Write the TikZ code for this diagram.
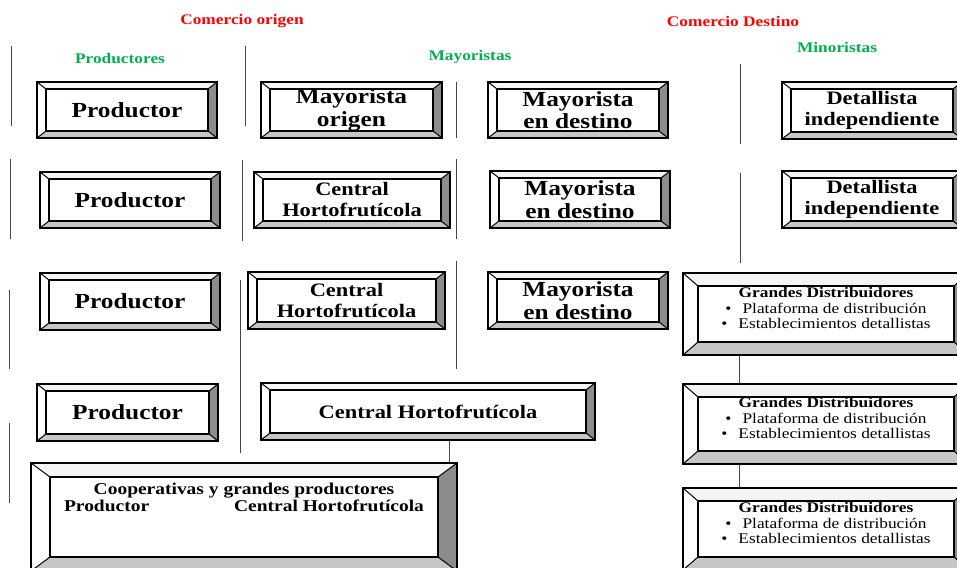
\documentclass[tikz,border=0pt]{standalone}
\usepackage{fontspec}
\setmainfont[FakeStretch=1.18]{Liberation Serif}
\definecolor{headred}{RGB}{255,0,0}
\definecolor{headgreen}{RGB}{0,176,80}
\definecolor{bevtop}{RGB}{244,244,244}
\definecolor{bevright}{RGB}{140,140,140}
\definecolor{bevbottom}{RGB}{198,198,198}
\definecolor{sepline}{RGB}{70,70,70}
\begin{document}
\begin{tikzpicture}[
		x=1pt, y=-1pt,
		bevel x/.store in=\bevx, bevel y/.store in=\bevy,
		bevel x=9, bevel y=7,
		bevelbox/.style={rectangle, draw, line width=2.4pt, inner sep=0pt, align=center,
			minimum width=180pt, minimum height=56pt,
			font=\bfseries\fontsize{21.5}{22.5}\selectfont,
			path picture={
				\coordinate (bA) at (path picture bounding box.north west);
				\coordinate (bB) at (path picture bounding box.north east);
				\coordinate (bC) at (path picture bounding box.south east);
				\coordinate (bD) at (path picture bounding box.south west);
				\coordinate (ba) at ([shift={(\bevx pt,-\bevy pt)}]bA);
				\coordinate (bb) at ([shift={(-\bevx pt,-\bevy pt)}]bB);
				\coordinate (bc) at ([shift={(-\bevx pt,\bevy pt)}]bC);
				\coordinate (bd) at ([shift={(\bevx pt,\bevy pt)}]bD);
				\fill[bevtop] (bA) -- (bB) -- (bb) -- (ba) -- cycle;
				\fill[bevright] (bB) -- (bC) -- (bc) -- (bb) -- cycle;
				\fill[bevbottom] (bC) -- (bD) -- (bd) -- (bc) -- cycle;
				\draw[line width=1pt] (bA) -- (ba) (bB) -- (bb) (bC) -- (bc) (bD) -- (bd);
				\draw[line width=1.8pt] (ba) rectangle (bc);
			}},
		midtext/.style={font=\bfseries\fontsize{19}{21}\selectfont},
		gdbox/.style={bevelbox, bevel x=15, bevel y=13, minimum width=286pt,
			font=\fontsize{14.7}{15.5}\selectfont},
		head/.style={font=\bfseries\fontsize{14.7}{16}\selectfont},
		sep/.style={draw=sepline, line width=0.9pt},
		link/.style={draw=sepline, line width=0.9pt}
	]
	\useasboundingbox (0,0) rectangle (957,567);
	\clip (0,0) rectangle (957,567);

	\node[head, text=headred] (orig) at (242,21) {Comercio origen};
	\node[head, text=headred] (dest) at (733,21) {Comercio Destino};
	\node[head, text=headgreen] (prod) at (120,58) {Productores};
	\node[head, text=headgreen] (may) at (470,57) {Mayoristas};
	\node[head, text=headgreen] (min) at (837,47) {Minoristas};

	\node[bevelbox] (p1) at (127,110) {Productor};
	\node[bevelbox, minimum width=181pt] (mo) at (351.5,110) {Mayorista\\origen};
	\node[bevelbox] (md1) at (578,110) {Mayorista\\en destino};
	\node[bevelbox, midtext, minimum height=57pt] (dt1) at (872,110.5) {Detallista\\independiente};

	\node[bevelbox] (p2) at (130,200) {Productor};
	\node[bevelbox, midtext, minimum width=196pt] (ch1) at (352,200) {Central\\Hortofrutícola};
	\node[bevelbox, minimum height=57pt] (md2) at (580,199.5) {Mayorista\\en destino};
	\node[bevelbox, midtext, minimum height=57pt] (dt2) at (872,199.5) {Detallista\\independiente};

	\node[bevelbox, minimum height=57pt] (p3) at (130,301.5) {Productor};
	\node[bevelbox, midtext, minimum width=197pt, minimum height=57pt] (ch2) at (346.5,300.5) {Central\\Hortofrutícola};
	\node[bevelbox, minimum height=57pt] (md3) at (578,300.5) {Mayorista\\en destino};
	\node[gdbox, minimum height=82pt] (gd1) at (826,314) {\textbf{Grandes Distribuidores}\\\textbullet\hspace{11pt}Plataforma de distribución\\\textbullet\hspace{11pt}Establecimientos detallistas\rule[-12pt]{0pt}{0pt}};

	\node[bevelbox, minimum width=181pt, minimum height=57pt] (p4) at (127.5,412.5) {Productor};
	\node[bevelbox, midtext, minimum width=334pt, minimum height=57pt] (cw) at (428,411.5) {Central Hortofrutícola};
	\node[gdbox, minimum height=80pt] (gd2) at (826,424) {\textbf{Grandes Distribuidores}\\\textbullet\hspace{11pt}Plataforma de distribución\\\textbullet\hspace{11pt}Establecimientos detallistas\rule[-12pt]{0pt}{0pt}};

	\node[bevelbox, bevel x=19, bevel y=14, minimum width=426pt, minimum height=108pt,
		font=\bfseries\fontsize{16.5}{17}\selectfont] (coop) at (244,517) {Cooperativas y grandes productores\\Productor\hspace{85pt}Central Hortofrutícola\rule[-40pt]{0pt}{0pt}};
	\node[gdbox, minimum height=82pt] (gd3) at (826,529) {\textbf{Grandes Distribuidores}\\\textbullet\hspace{11pt}Plataforma de distribución\\\textbullet\hspace{11pt}Establecimientos detallistas\rule[-12pt]{0pt}{0pt}};

	\draw[sep] (11,46) -- (11,126) (245,46) -- (245,126) (456,82) -- (456,138) (740,64) -- (740,144)
		(10,159) -- (10,239) (242,160) -- (242,241) (456,159) -- (456,239) (740,173) -- (740,263)
		(9,290) -- (9,369) (240,280) -- (240,453) (456,261) -- (456,369) (9,423) -- (9,503);

	\draw[link] ([xshift=58pt]gd1.south west) -- ([xshift=58pt]gd2.north west);
	\draw[link] ([xshift=58pt]gd2.south west) -- ([xshift=58pt]gd3.north west);
	\draw[link] ([xshift=-9pt]coop.north east) -- ([xshift=-9pt]coop.north east |- cw.south);
\end{tikzpicture}
\end{document}
